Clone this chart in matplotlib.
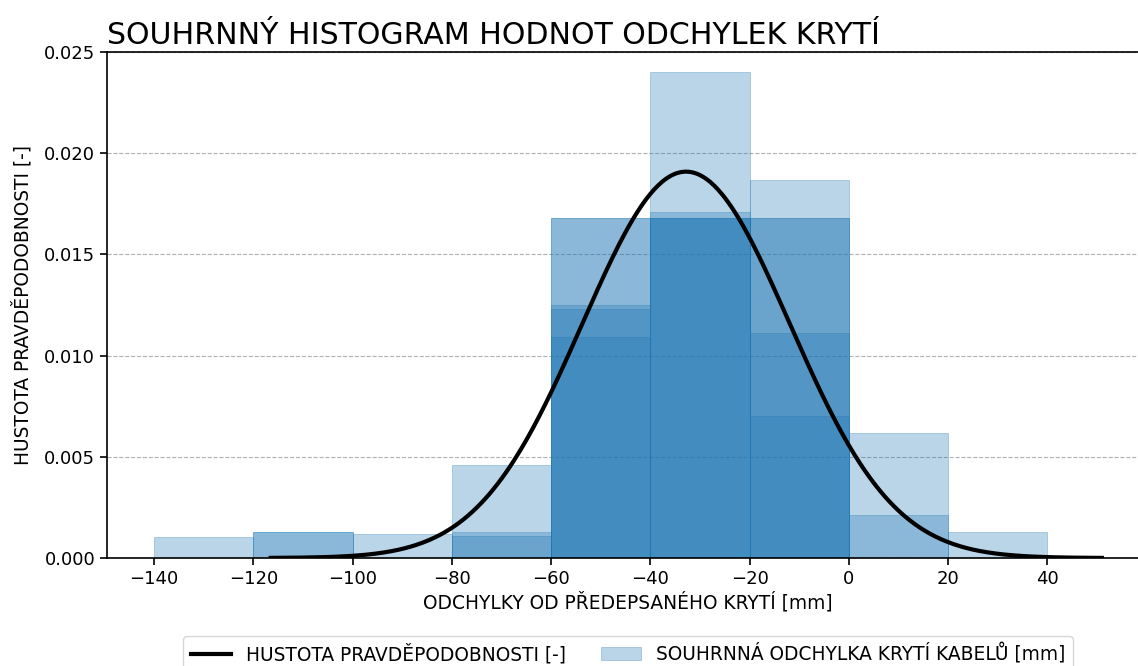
import numpy as np
import matplotlib
matplotlib.use("Agg")
import matplotlib.pyplot as plt

# bin edges shared by all the overlaid histograms
bin_edges = [-140, -120, -100, -80, -60, -40, -20, 0, 20, 40]

# density of each partial set, one value per bin
hist_1 = [0.00105, 0.0013, 0.0012, 0.0046, 0.0125, 0.0171, 0.0111, 0.0021, 0.0]
hist_2 = [0.0, 0.0013, 0.0, 0.0013, 0.0123, 0.0240, 0.0070, 0.0062, 0.0]
hist_3 = [0.0, 0.0, 0.0, 0.0011, 0.0109, 0.0168, 0.0187, 0.0, 0.0013]
hist_4 = [0.0, 0.0, 0.0, 0.0, 0.0168, 0.0168, 0.0168, 0.0, 0.0]
hist_5 = [0.0, 0.0, 0.0, 0.0, 0.0168, 0.0168, 0.0168, 0.0, 0.0]

# fitted normal curve
fit_mean = -32.8
fit_std = 20.9
fit_from = -116.5
fit_to = 51.0

fig = plt.figure(figsize=(11.38, 6.66), dpi=100)
ax = fig.add_axes([107 / 1138, 108 / 666, (1149 - 107) / 1138, (558 - 52) / 666])

ax.yaxis.grid(True, linestyle="--", color="#b0b0b0", linewidth=0.8)
ax.set_axisbelow(True)

lefts = np.array(bin_edges[:-1])
widths = np.diff(bin_edges)
all_hist = [hist_1, hist_2, hist_3, hist_4, hist_5]
for i, h in enumerate(all_hist):
    h = np.array(h)
    keep = h > 0
    ax.bar(lefts[keep], h[keep], width=widths[keep], align="edge",
           color="C0", edgecolor="C0", linewidth=0.7, alpha=0.3,
           label="SOUHRNNÁ ODCHYLKA KRYTÍ KABELŮ [mm]" if i == 0 else None)

xs = np.linspace(fit_from, fit_to, 400)
pdf = np.exp(-(xs - fit_mean) ** 2 / (2 * fit_std ** 2)) / (fit_std * np.sqrt(2 * np.pi))
ax.plot(xs, pdf, color="black", linewidth=3, label="HUSTOTA PRAVDĚPODOBNOSTI [-]")

ax.set_xlim(-149.5, 60.5)
ax.set_ylim(0, 0.025)
ax.set_xticks(range(-140, 41, 20))
ax.set_yticks([0, 0.005, 0.01, 0.015, 0.02, 0.025])
ax.set_yticklabels(["0.000", "0.005", "0.010", "0.015", "0.020", "0.025"])
ax.tick_params(labelsize=13, width=1.2, length=5)
ax.spines["right"].set_visible(False)
for s in ["left", "bottom", "top"]:
    ax.spines[s].set_linewidth(1.2)

ax.set_title("SOUHRNNÝ HISTOGRAM HODNOT ODCHYLEK KRYTÍ", loc="left", fontsize=21.6, pad=6)
ax.set_xlabel("ODCHYLKY OD PŘEDEPSANÉHO KRYTÍ [mm]", fontsize=13.4, labelpad=3)
ax.set_ylabel("HUSTOTA PRAVDĚPODOBNOSTI [-]", fontsize=13.4, labelpad=8)

handles, labels = ax.get_legend_handles_labels()
order = [labels.index("HUSTOTA PRAVDĚPODOBNOSTI [-]"), labels.index("SOUHRNNÁ ODCHYLKA KRYTÍ KABELŮ [mm]")]
ax.legend([handles[k] for k in order], [labels[k] for k in order],
          loc="upper center", bbox_to_anchor=(0.5, -0.154), borderaxespad=0,
          ncol=2, fontsize=13.4, frameon=True, columnspacing=1.9, handlelength=2.15)

fig.savefig("out.png", dpi=100)
